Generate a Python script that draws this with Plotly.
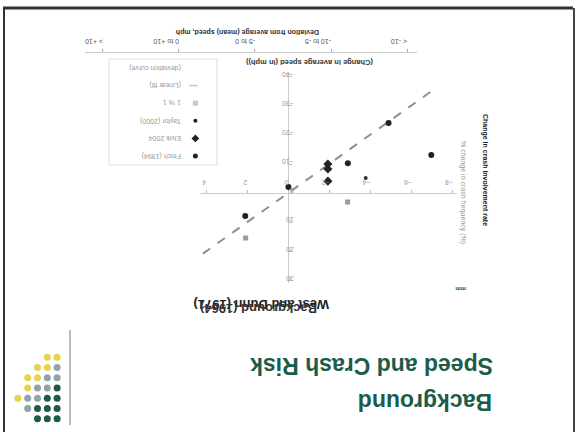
import plotly.graph_objects as go

W, H = 576, 432

# ---------------- data (upright chart values) ----------------
speed_ticks = [-8, -6, -4, -2, 0, 2, 4]
crash_ticks = [-40, -30, -20, -10, 0, 10, 20, 30]

circle_x = [-4.87, -6.95, -2.89, 0.0, 2.1]
circle_y = [-24.1, -13.1, -10.3, -2.1, 7.9]
diamond_x = [-1.92, -1.92, -1.92]
diamond_y = [-10.0, -8.3, -4.1]
dot_x = [-3.76]
dot_y = [-5.2]
square_x = [2.08, -2.88]
square_y = [15.5, 3.1]
fit_x = [-6.9, 4.26]
fit_y = [-34.8, 21.4]

deviation_labels = ["< -10", "-10 to -5", "-5 to 0", "0 to +10", "> +10"]

legend_labels = ["Finch (1994)", "Elvik 2004", "Taylor (2000)", "1 % 1",
                 "(Linear fit)", "(deviation curve)"]

logo_row = [0, 0, 1, 1, 1, 2, 2, 2, 2, 3, 3, 3, 3, 4, 4, 4, 4, 4, 5, 5, 5, 5, 6, 6, 6]
logo_col = [3, 4, 2, 3, 4, 1, 2, 3, 4, 1, 2, 3, 4, 0, 1, 2, 3, 4, 1, 2, 3, 4, 2, 3, 4]
logo_tone = ["Y", "Y", "Y", "Y", "G", "Y", "Y", "G", "G", "Y", "G", "G", "D",
             "Y", "G", "G", "D", "D", "G", "D", "D", "D", "D", "D", "D"]

GREEN = "#1b5c4b"
tone_color = {"Y": "#e6d24f", "G": "#8fa3ac", "D": "#1d5a47"}

FONT = "Liberation Sans"


def px_x(p):
    return p / W


def px_y(p):
    return 1 - p / H


fig = go.Figure()

# main chart traces (rotated 180 degrees via reversed axes)
fig.add_trace(go.Scatter(x=fit_x, y=fit_y, mode="lines",
                         line=dict(color="#8f8f8f", width=2, dash="dash"),
                         showlegend=False, hoverinfo="skip"))
fig.add_trace(go.Scatter(x=square_x, y=square_y, mode="markers",
                         marker=dict(symbol="square", size=5, color="#9a9a9a"),
                         showlegend=False))
fig.add_trace(go.Scatter(x=circle_x, y=circle_y, mode="markers",
                         marker=dict(symbol="circle", size=6, color="#222222"),
                         showlegend=False))
fig.add_trace(go.Scatter(x=diamond_x, y=diamond_y, mode="markers",
                         marker=dict(symbol="diamond", size=7, color="#222222"),
                         showlegend=False))
fig.add_trace(go.Scatter(x=dot_x, y=dot_y, mode="markers",
                         marker=dict(symbol="circle", size=4, color="#333333"),
                         showlegend=False))

# secondary (deviation) axis, invisible anchor trace on its own hidden y axis
fig.add_trace(go.Scatter(x=list(range(len(deviation_labels))),
                         y=[0] * len(deviation_labels), xaxis="x2", yaxis="y5",
                         mode="markers", marker=dict(opacity=0),
                         showlegend=False, hoverinfo="skip"))

# legend markers (manual, rotated)
rows = list(range(len(legend_labels)))
fig.add_trace(go.Scatter(x=[0.80], y=[rows[0]], xaxis="x3", yaxis="y3", mode="markers",
                         marker=dict(symbol="circle", size=5, color="#222"),
                         showlegend=False))
fig.add_trace(go.Scatter(x=[0.80], y=[rows[1]], xaxis="x3", yaxis="y3", mode="markers",
                         marker=dict(symbol="diamond", size=6, color="#222"),
                         showlegend=False))
fig.add_trace(go.Scatter(x=[0.80], y=[rows[2]], xaxis="x3", yaxis="y3", mode="markers",
                         marker=dict(symbol="circle", size=4, color="#222"),
                         showlegend=False))
fig.add_trace(go.Scatter(x=[0.80], y=[rows[3]], xaxis="x3", yaxis="y3", mode="markers",
                         marker=dict(symbol="square", size=5, color="#c8c8c8"),
                         showlegend=False))
fig.add_trace(go.Scatter(x=[0.74, 0.88], y=[rows[4], rows[4]], xaxis="x3", yaxis="y3",
                         mode="lines", line=dict(color="#c8c8c8", width=1.5, dash="dash"),
                         showlegend=False))

# logo
fig.add_trace(go.Scatter(x=logo_col, y=logo_row, xaxis="x4", yaxis="y4", mode="markers",
                         marker=dict(size=7, color=[tone_color[t] for t in logo_tone]),
                         showlegend=False, hoverinfo="skip"))

x_dom = [px_x(200), px_x(457)]
y_dom = [px_y(283), px_y(72)]
x_range = [4.3, -8.2]
y_range = [31.0, -41.7]
x0_paper = x_dom[0] + (x_range[0] - 0) / (x_range[0] - x_range[1]) * (x_dom[1] - x_dom[0])
y0_paper = y_dom[0] + (y_range[0] - 0) / (y_range[0] - y_range[1]) * (y_dom[1] - y_dom[0])

tickfont = dict(family=FONT, size=7, color="#9a9a9a")

fig.update_layout(
    width=W, height=H,
    margin=dict(l=0, r=0, t=0, b=0),
    paper_bgcolor="white", plot_bgcolor="rgba(0,0,0,0)",
    showlegend=False,
    xaxis=dict(domain=x_dom, range=x_range, anchor="free", position=y0_paper,
               side="top", tickvals=speed_ticks, tickangle=180, tickfont=tickfont,
               ticks="outside", ticklen=3, tickcolor="#bbbbbb",
               showgrid=False, showline=False, zeroline=True,
               zerolinecolor="#cccccc", zerolinewidth=1, automargin=False),
    yaxis=dict(domain=y_dom, range=y_range, anchor="free", position=x0_paper,
               side="right", tickvals=crash_ticks, tickangle=180, tickfont=tickfont,
               ticks="outside", ticklen=3, tickcolor="#bbbbbb",
               showgrid=False, showline=False, zeroline=True,
               zerolinecolor="#cccccc", zerolinewidth=1, automargin=False),
    xaxis2=dict(domain=[px_x(85), px_x(417)], range=[4.236, -0.131], anchor="free",
                position=px_y(52), side="top",
                tickvals=list(range(len(deviation_labels))), ticktext=deviation_labels,
                tickangle=180, tickfont=dict(family=FONT, size=7, color="#555555"),
                ticks="outside", ticklen=3, tickcolor="#aaaaaa",
                showline=True, linecolor="#cccccc", linewidth=1,
                showgrid=False, zeroline=False, automargin=False),
    yaxis5=dict(domain=[px_y(54), px_y(53)], range=[-1, 1], visible=False),
    xaxis3=dict(domain=[px_x(109), px_x(217)], range=[0, 1], visible=False),
    yaxis3=dict(domain=[px_y(165), px_y(59)], range=[-0.51, 5.51], visible=False),
    xaxis4=dict(domain=[px_x(13), px_x(62)], range=[-0.5, 4.5], visible=False),
    yaxis4=dict(domain=[px_y(424), px_y(352)], range=[6.5, -0.5], visible=False),
)

ann = []


def rot_text(text, x, y, size, color, bold=False, angle=180, xanchor="center",
             xref="paper", yref="paper", family=FONT):
    t = f"<b>{text}</b>" if bold else text
    ann.append(dict(text=t, x=x, y=y, xref=xref, yref=yref, showarrow=False,
                    textangle=angle, xanchor=xanchor, yanchor="middle",
                    font=dict(family=family, size=size, color=color)))


# slide titles
rot_text("Background", px_x(425), px_y(402), 23, GREEN, bold=True)
rot_text("Speed and Crash Risk", px_x(372), px_y(366), 23, GREEN, bold=True)
# source captions (ghosted double print in the scan)
rot_text("West and Dunn (1971)", px_x(261), px_y(305), 13, "#222222", bold=True)
rot_text("Background (1964)", px_x(259), px_y(309), 13, "#333333", bold=True)
# axis titles
rot_text("Deviation from average (mean) speed, mph", px_x(248), px_y(32), 7, "#333333", bold=True)
rot_text("(Change in average speed (in mph))", px_x(309), px_y(62), 7.5, "#333333", bold=True)
rot_text("Change in crash involvement rate", px_x(485), px_y(170), 7, "#222222", bold=True, angle=90)
rot_text("% change in crash frequency (%)", px_x(463), px_y(192), 7, "#999999", angle=90)
rot_text("mm", px_x(461), px_y(289), 6, "#444444", bold=True)

# legend texts
for i, lab in enumerate(legend_labels):
    rot_text(lab, 0.68, rows[i], 7, "#999999", xanchor="right", xref="x3", yref="y3")

fig.update_layout(annotations=ann)

# frame / decorations
shapes = [
    dict(type="line", xref="paper", yref="paper", x0=px_x(3), x1=px_x(573),
         y0=px_y(8), y1=px_y(8), line=dict(color="#333333", width=3)),
    dict(type="line", xref="paper", yref="paper", x0=px_x(4), x1=px_x(4),
         y0=px_y(8), y1=px_y(432), line=dict(color="#333333", width=2)),
    dict(type="line", xref="paper", yref="paper", x0=px_x(574), x1=px_x(574),
         y0=px_y(8), y1=px_y(432), line=dict(color="#444444", width=2)),
    dict(type="rect", xref="paper", yref="paper", x0=px_x(109), x1=px_x(217),
         y0=px_y(165), y1=px_y(59), line=dict(color="#dddddd", width=1)),
    dict(type="line", xref="paper", yref="paper", x0=px_x(70), x1=px_x(70),
         y0=px_y(330), y1=px_y(425), line=dict(color="#bbbbbb", width=2)),
]
fig.update_layout(shapes=shapes)

fig.write_html("out.html", config={"displayModeBar": False},
               post_script="document.body.style.margin='0px';")
